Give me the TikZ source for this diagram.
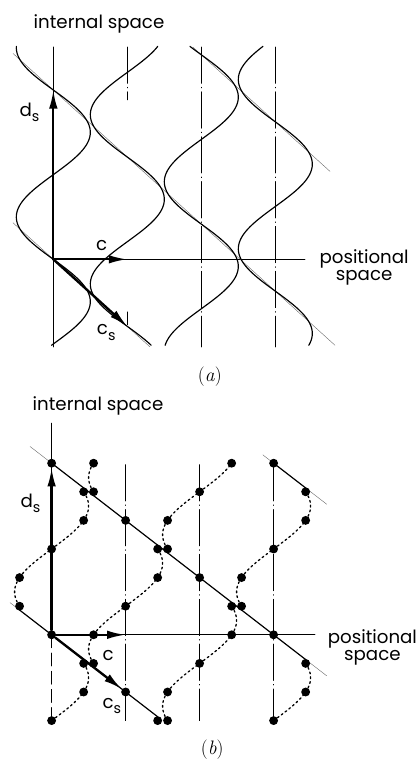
\documentclass[tikz,border=0pt]{standalone}
\usepackage{fontspec}
\setsansfont{Poppins}
\usepackage{tikz}
\usetikzlibrary{arrows.meta}

\newcommand{\lowsub}[1]{\raisebox{-0.55ex}{\fontsize{11}{11}\selectfont #1}}

\begin{document}
\begin{tikzpicture}[
	line cap=round,
	line join=round,
	every node/.style={font=\sffamily\fontsize{14}{13}\selectfont},
	axisline/.style={line width=0.6pt},
	latline/.style={line width=0.5pt, dash pattern=on 28pt off 3pt on 0.5pt off 3pt},
	strand/.style={line width=0.9pt},
	guide/.style={line width=0.3pt, black!60},
	vec/.style={line width=1.8pt, -{Latex[length=5mm, width=2.3mm]}},
	atom/.style={circle, fill, inner sep=0pt, minimum size=2.4mm},
	wavy/.style={line width=1pt, dash pattern=on 1.4pt off 2.3pt},
	tag/.style={font=\rmfamily\fontsize{15}{16}\selectfont}
	]
	\useasboundingbox (0,0) rectangle (11.324,20.514);
	
	% Panel (a): incommensurate case
	\begin{scope}[shift={(1.441,13.505)}]
		% Axes and lattice lines
		\draw[axisline] (0,-2.37) -- (0,5.74);
		\draw[axisline] (0,0) -- (6.80,0);
		\draw[latline] (2,5.74) -- (2,4.31);
		\draw[latline] (2,-1.42) -- (2,-1.77);
		\draw[latline] (4,5.74) -- (4,-2.37);
		\draw[latline] (6,5.74) -- (6,-2.37);
		
		% Lines parallel to c_s
		\draw[guide] (-1.09,0.988) -- (2.61,-2.365);
		\draw[guide] (-1.09,5.564) -- (7.61,-2.32);
		\draw[guide] (3.776,5.73) -- (7.48,2.375);
		
		% Atomic strings
		\foreach \n in {0,...,3}
		\draw[strand] plot[domain=-2.324:5.757, samples=160, variable=\t]
		({2*\n-sin(360*\t/4.576+142.56*\n)}, \t);
		
		% Basis vectors
		\coordinate (oA) at (0,0);
		\coordinate (dA) at (0,4.576);
		\coordinate (cA) at (2,0);
		\coordinate (csA) at (2,-1.812);
		\draw[vec] (oA) -- (dA);
		\draw[vec] (oA) -- (cA);
		\draw[vec] (oA) -- (csA);
		
		% Labels
		\node (intA) at (1.235,6.36) {internal space};
		\node (dsA) at (-0.643,3.97) {d\lowsub{s}};
		\node (cLA) at (1.305,0.365) {c};
		\node (csLA) at (1.43,-1.98) {c\lowsub{s}};
		\node[align=center] (posA) at (8.40,-0.22) {positional\\space};
		\node[tag] (capA) at (4.23,-3.18) {(\textit{a})};
	\end{scope}
	
	% Panel (b): commensurate case
	\begin{scope}[shift={(1.395,3.357)}]
		% Axes and lattice lines
		\draw[axisline] (0,0) -- (0,5.72);
		\draw[axisline, dash pattern=on 10pt off 4pt] (0,0) -- (0,-2.32);
		\draw[axisline] (0,0) -- (7.12,0);
		\foreach \x in {2,4,6}
		\draw[latline] (\x,4.6) -- (\x,-2.32);
		
		% Lines parallel to c_s
		\draw[guide] (-1.124,0.869) -- (2.866,-2.215);
		\draw[guide] (-0.584,5.09) -- (7.435,-1.109);
		\draw[guide] (5.71,4.862) -- (7.435,3.529);
		
		% Atoms
		\foreach \n in {0,...,3}
		\foreach \kk in {0,...,9}
		\node[atom] (b\n\kk) at ({2*\n-sin(60*(\kk-3)+120*\n)}, {(\kk-3)*0.773}) {};
		
		% Dotted parts of the strings
		\foreach \n in {0,...,3}
		\foreach \kk in {0,...,8}{
			\pgfmathtruncatemacro\segph{mod(\kk+3+2*\n,6)}
			\pgfmathsetmacro\ylo{(\kk-3)*0.773}
			\pgfmathsetmacro\yhi{(\kk-2)*0.773}
			\ifnum\segph>0 \ifnum\segph<5
			\draw[wavy] plot[domain=\ylo:\yhi, samples=16, variable=\t]
			({2*\n-sin(360*\t/4.638+120*\n)}, \t);
			\fi\fi
		}
		
		% Solid parts along c_s
		\coordinate (l0s) at (-0.866,0.669);
		\coordinate (l0e) at (2.866,-2.215);
		\coordinate (l1e) at (6.866,-0.669);
		\coordinate (l2e) at (6.866,3.969);
		\draw[strand] (l0s) -- (b03.center) -- (b11.center) -- (l0e);
		\draw[strand] (b09.center) -- (b17.center) -- (b25.center) -- (b33.center) -- (l1e);
		\draw[strand] (b39.center) -- (l2e);
		
		% Basis vectors
		\coordinate (cB) at (2,0);
		\draw[vec] (b03) -- (b09);
		\draw[vec] (b03) -- (cB);
		\draw[vec] (b03) -- (b11);
		
		% Labels
		\node (intB) at (1.254,6.18) {internal space};
		\node (dsB) at (-0.57,3.56) {d\lowsub{s}};
		\node (cLB) at (1.53,-0.57) {c};
		\node (csLB) at (1.63,-1.92) {c\lowsub{s}};
		\node[align=center] (posB) at (8.67,-0.34) {positional\\space};
		\node[tag] (capB) at (4.34,-3.11) {(\textit{b})};
	\end{scope}
\end{tikzpicture}
\end{document}
